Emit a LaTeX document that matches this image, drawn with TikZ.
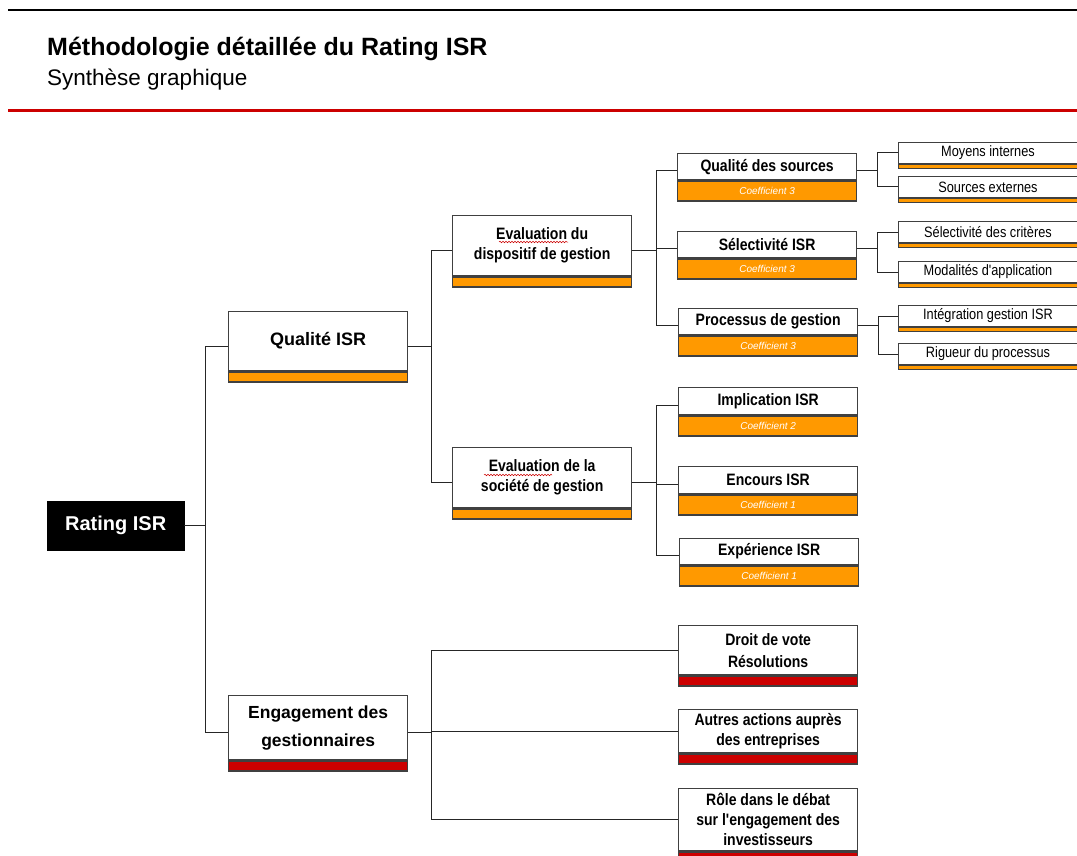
\documentclass[tikz,border=0pt]{standalone}
\usepackage{fontspec}
\setmainfont{Liberation Sans}
\newfontfamily\narrowfont[FakeStretch=0.85]{Liberation Sans}
\usetikzlibrary{decorations.pathmorphing}
\definecolor{isrorange}{HTML}{FF9900}
\definecolor{isrred}{HTML}{CC0000}
\definecolor{boxline}{HTML}{404040}
\tikzset{
  wbox/.style={draw=boxline, line width=1.3pt, fill=white, minimum width=179pt,
    inner sep=0pt, align=center, anchor=north west},
  obar/.style={draw=boxline, line width=1.3pt, fill=isrorange, minimum width=179pt,
    inner sep=0pt, anchor=north},
  rbar/.style={obar, fill=isrred},
  coef/.style={obar, minimum height=20pt, text=white,
    font=\fontsize{10}{11}\selectfont\itshape},
  midfont/.style={font=\narrowfont\bfseries\fontsize{16.5}{20}\selectfont},
  leaf/.style={wbox, line width=1pt, minimum height=21pt,
    font=\narrowfont\fontsize{15}{17}\selectfont},
  leafbar/.style={obar, line width=1pt, minimum height=4pt},
  link/.style={line width=1pt, black!85},
  spell/.style={isrred, line width=0.5pt, decorate,
    decoration={snake, amplitude=0.8pt, segment length=3pt}}
}
\begin{document}
\begin{tikzpicture}[x=1pt,y=-1pt]
\useasboundingbox (0,0) rectangle (1077,856);
% header
\draw[line width=1.2pt] (8,10) -- (1077,10);
\node[anchor=base west, inner sep=0pt, font=\fontsize{25}{30}\selectfont\bfseries] (title) at (47,56) {Méthodologie détaillée du Rating ISR};
\node[anchor=base west, inner sep=0pt, font=\fontsize{22.5}{27}\selectfont] (subtitle) at (47,86) {Synthèse graphique};
\draw[isrred, line width=3pt] (8,111) -- (1077,111);

% root
\node[draw=black, fill=black, text=white, minimum width=137pt, minimum height=49pt, inner sep=0pt,
  anchor=north west, font=\fontsize{20}{24}\selectfont\bfseries] (root) at (47,501) {Rating ISR};

% level 2
\node[wbox, minimum height=59pt, font=\fontsize{18}{22}\selectfont\bfseries] (qisr) at (228,311) {Qualité ISR};
\node[obar, minimum height=10pt] (qisrb) at (qisr.south) {};
\node[wbox, minimum height=64pt, font=\fontsize{17.5}{28}\selectfont\bfseries] (eng) at (228,695) {Engagement des\\gestionnaires};
\node[rbar, minimum height=10pt] (engb) at (eng.south) {};

% level 3
\node[wbox, midfont, minimum height=60pt] (evd) at (452,215) {Evaluation du\\dispositif de gestion};
\node[obar, minimum height=10pt] (evdb) at (evd.south) {};
\node[wbox, midfont, minimum height=60pt] (evs) at (452,447) {Evaluation de la\\société de gestion};
\node[obar, minimum height=10pt] (evsb) at (evs.south) {};
\draw[spell] (499,242) -- (568,242);
\draw[spell] (484,475) -- (552,475);

% level 4, coefficients
\node[wbox, midfont, minimum height=26pt] (qsrc) at (677,153) {Qualité des sources};
\node[coef] (qsrcb) at (qsrc.south) {Coefficient 3};
\node[wbox, midfont, minimum height=26pt] (sel) at (677,231) {Sélectivité ISR};
\node[coef] (selb) at (sel.south) {Coefficient 3};
\node[wbox, midfont, minimum height=26pt] (proc) at (678,308) {Processus de gestion};
\node[coef] (procb) at (proc.south) {Coefficient 3};
\node[wbox, midfont, minimum height=27pt] (impl) at (678,387) {Implication ISR};
\node[coef] (implb) at (impl.south) {Coefficient 2};
\node[wbox, midfont, minimum height=27pt] (enc) at (678,466) {Encours ISR};
\node[coef] (encb) at (enc.south) {Coefficient 1};
\node[wbox, midfont, minimum height=26pt] (expe) at (679,538) {Expérience ISR};
\node[coef] (expeb) at (expe.south) {Coefficient 1};

% level 4, engagement
\node[wbox, midfont, minimum height=49pt, font=\narrowfont\bfseries\fontsize{16.5}{22}\selectfont] (vote) at (678,625) {Droit de vote\\Résolutions};
\node[rbar, minimum height=10pt] (voteb) at (vote.south) {};
\node[wbox, midfont, minimum height=43pt] (autres) at (678,709) {Autres actions auprès\\des entreprises};
\node[rbar, minimum height=10pt] (autresb) at (autres.south) {};
\node[wbox, midfont, minimum height=62pt] (role) at (678,788) {Rôle dans le débat\\sur l'engagement des\\investisseurs};
\node[rbar, minimum height=10pt] (roleb) at (role.south) {};

% level 5
\node[leaf] (moy) at (898,142) {Moyens internes};
\node[leafbar] (moyb) at (moy.south) {};
\node[leaf] (sext) at (898,176) {Sources externes};
\node[leafbar] (sextb) at (sext.south) {};
\node[leaf] (crit) at (898,221) {Sélectivité des critères};
\node[leafbar] (critb) at (crit.south) {};
\node[leaf] (moda) at (898,261) {Modalités d'application};
\node[leafbar] (modab) at (moda.south) {};
\node[leaf] (integ) at (898,305) {Intégration gestion ISR};
\node[leafbar] (integb) at (integ.south) {};
\node[leaf] (rig) at (898,343) {Rigueur du processus};
\node[leafbar] (rigb) at (rig.south) {};

% connectors
\draw[link] (root.east) -- ++(21,0) |- ([yshift=-5pt]qisr.west);
\draw[link] (root.east) -- ++(21,0) |- ([yshift=-5pt]eng.west);
\draw[link] ([yshift=-5pt]qisr.east) -- ++(23,0) |- ([yshift=-5pt]evd.west);
\draw[link] ([yshift=-5pt]qisr.east) -- ++(23,0) |- ([yshift=-5pt]evs.west);
\foreach \c in {qsrc,sel,proc}
  \draw[link] ([yshift=-5pt]evd.east) -- ++(24,0) |- ([yshift=-4pt]\c.west);
\foreach \c in {impl,enc,expe}
  \draw[link] ([yshift=-5pt]evs.east) -- ++(24,0) |- ([yshift=-4pt]\c.west);
\foreach \c in {vote,autres,role}
  \draw[link] ([yshift=-5pt]eng.east) -- ++(23,0) |- (\c.west);
\foreach \p/\a/\b in {qsrc/moy/sext, sel/crit/moda, proc/integ/rig}{
  \draw[link] ([yshift=-4pt]\p.east) -- ++(20,0) |- (\a.west);
  \draw[link] ([yshift=-4pt]\p.east) -- ++(20,0) |- (\b.west);
}
\end{tikzpicture}
\end{document}
